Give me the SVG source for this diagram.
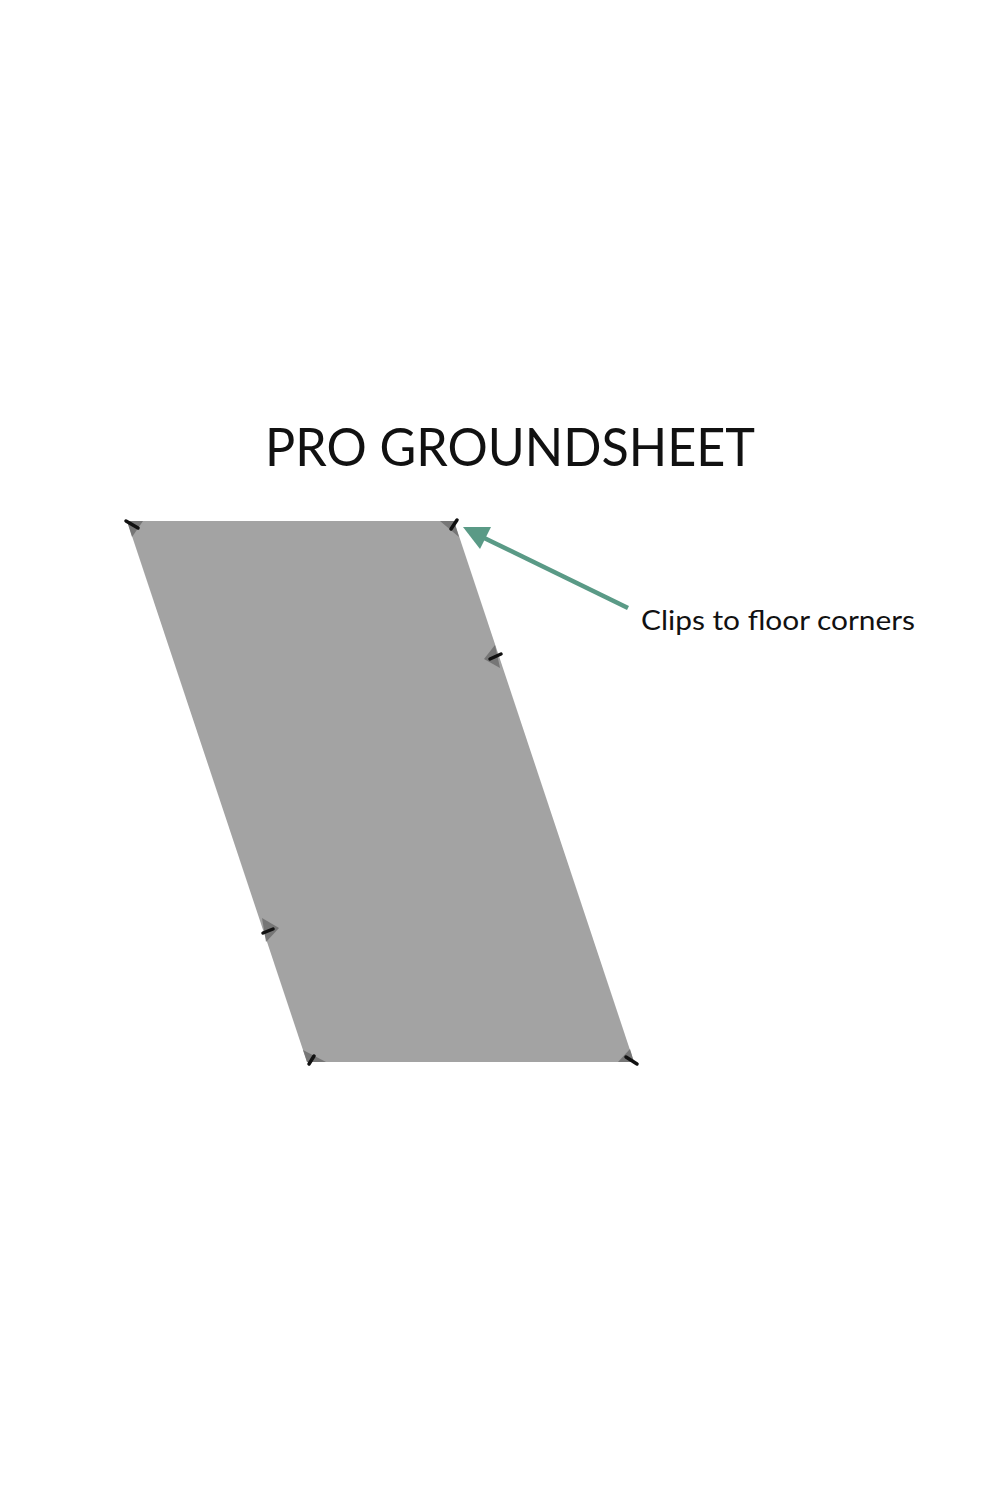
<svg xmlns="http://www.w3.org/2000/svg" width="1000" height="1500" viewBox="0 0 1000 1500">
<style>
.t{font-family:Lato,"Liberation Sans",sans-serif;fill:#111}
.tab{fill:#6a6a6a;opacity:0.8}
.tick{stroke:#111;stroke-width:3.5;stroke-linecap:round}
</style>
<rect width="1000" height="1500" fill="#fff"/>
<text class="t" x="510" y="466" font-size="52" text-anchor="middle" textLength="490" lengthAdjust="spacingAndGlyphs">PRO GROUNDSHEET</text>
<g id="groundsheet">
<polygon points="127,521 454,521 634,1062 307,1062" fill="#a3a3a3"/>
<polygon class="tab" points="127,521 143,521 132,537"/>
<polygon class="tab" points="440,521 454,521 459,537"/>
<polygon class="tab" points="495,645 500,668 484,659"/>
<polygon class="tab" points="262,918 279,928 266,942"/>
<polygon class="tab" points="303,1050 326,1062 307,1062"/>
<polygon class="tab" points="630,1049 634,1062 618,1062"/>
<line class="tick" x1="126" y1="521" x2="138" y2="528"/>
<line class="tick" x1="451" y1="529" x2="457" y2="520"/>
<line class="tick" x1="490" y1="659" x2="501" y2="654"/>
<line class="tick" x1="263" y1="933" x2="273" y2="929"/>
<line class="tick" x1="309" y1="1064" x2="314" y2="1056"/>
<line class="tick" x1="626" y1="1057" x2="637" y2="1064"/>
</g>
<g id="connectors">
<line x1="628" y1="608" x2="478" y2="535" stroke="#5a9a86" stroke-width="4.5"/>
<polygon points="463,527 491,527 480,549" fill="#5a9a86"/>
</g>
<g id="label">
<text class="t" x="641" y="630" font-size="26" textLength="274" lengthAdjust="spacingAndGlyphs">Clips to floor corners</text>
</g>
</svg>
